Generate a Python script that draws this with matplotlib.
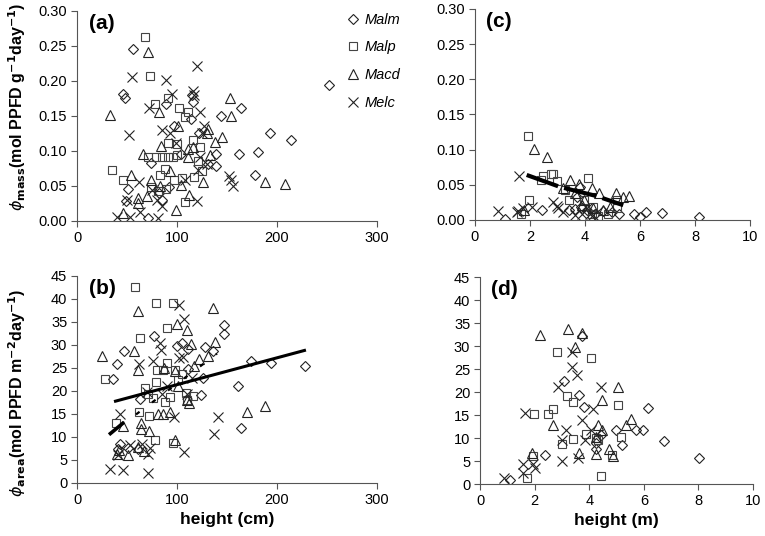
import numpy as np
import matplotlib.pyplot as plt

plt.rcParams['font.family'] = ['Liberation Sans', 'DejaVu Sans']

# ---- (a) phi_mass vs height (cm) ----
a_malm_x = [56, 46, 48, 51, 49, 71, 74, 85, 89, 97, 114, 115, 116, 131, 139, 139, 144, 164, 162, 181, 178, 193, 214, 252, 104, 82, 122, 92]
a_malm_y = [0.246, 0.181, 0.175, 0.046, 0.028, 0.004, 0.083, 0.030, 0.167, 0.136, 0.146, 0.180, 0.170, 0.082, 0.096, 0.078, 0.150, 0.162, 0.096, 0.099, 0.065, 0.125, 0.115, 0.194, 0.095, 0.040, 0.125, 0.048]
a_malp_x = [68, 73, 35, 46, 71, 79, 85, 91, 96, 100, 78, 91, 102, 111, 108, 91, 100, 116, 123, 121, 125, 117, 105, 97, 83, 88, 89, 108, 81, 74]
a_malp_y = [0.263, 0.207, 0.073, 0.059, 0.091, 0.092, 0.092, 0.092, 0.092, 0.094, 0.167, 0.176, 0.161, 0.156, 0.148, 0.112, 0.110, 0.116, 0.105, 0.085, 0.072, 0.063, 0.062, 0.059, 0.066, 0.074, 0.045, 0.027, 0.043, 0.048]
a_macd_x = [33, 54, 61, 61, 46, 71, 66, 74, 70, 82, 84, 83, 93, 99, 104, 101, 112, 111, 111, 116, 126, 131, 138, 145, 133, 153, 154, 188, 208, 130]
a_macd_y = [0.151, 0.066, 0.033, 0.025, 0.011, 0.241, 0.096, 0.059, 0.035, 0.155, 0.107, 0.050, 0.071, 0.016, 0.051, 0.135, 0.037, 0.103, 0.091, 0.106, 0.056, 0.131, 0.113, 0.120, 0.094, 0.176, 0.150, 0.056, 0.053, 0.126]
a_melc_x = [55, 52, 72, 89, 95, 62, 50, 40, 53, 63, 75, 80, 81, 85, 85, 93, 99, 108, 116, 117, 120, 123, 125, 127, 120, 123, 130, 152, 154, 156, 121]
a_melc_y = [0.205, 0.123, 0.162, 0.201, 0.181, 0.055, 0.030, 0.005, 0.005, 0.013, 0.044, 0.030, 0.004, 0.022, 0.130, 0.126, 0.111, 0.059, 0.186, 0.180, 0.221, 0.156, 0.125, 0.136, 0.028, 0.092, 0.081, 0.064, 0.058, 0.050, 0.073]

# ---- (b) phi_area vs height (cm) ----
b_malm_x = [47, 40, 36, 43, 41, 77, 63, 100, 111, 128, 136, 147, 147, 126, 124, 111, 161, 164, 174, 194, 228, 61, 51, 105]
b_malm_y = [28.6, 25.8, 22.5, 8.5, 7.4, 32.0, 18.2, 29.7, 29.1, 29.5, 28.6, 34.4, 32.3, 22.9, 19.2, 24.7, 21.1, 11.9, 26.5, 26.0, 25.4, 7.3, 7.5, 30.4]
b_malp_x = [58, 79, 96, 90, 63, 28, 39, 62, 72, 78, 96, 80, 90, 98, 101, 105, 79, 68, 71, 76, 88, 93, 109, 110, 116, 86]
b_malp_y = [42.5, 39.2, 39.2, 33.7, 31.5, 22.6, 13.1, 15.5, 14.6, 9.3, 8.8, 24.5, 26.0, 24.5, 22.4, 23.6, 22.0, 20.7, 19.4, 18.5, 17.5, 18.7, 19.5, 18.0, 19.0, 24.5]
b_macd_x = [25, 57, 61, 61, 64, 64, 72, 46, 40, 51, 81, 86, 93, 98, 100, 110, 114, 87, 98, 101, 110, 112, 117, 122, 131, 136, 138, 170, 188, 61, 67, 42]
b_macd_y = [27.5, 28.8, 37.4, 24.5, 13.0, 11.7, 11.2, 12.3, 6.4, 6.0, 15.0, 15.0, 15.5, 9.4, 34.5, 33.3, 30.2, 25.0, 24.3, 21.1, 18.0, 17.3, 25.4, 27.0, 27.6, 38.0, 30.6, 15.5, 16.8, 7.9, 7.0, 7.2]
b_melc_x = [33, 46, 71, 43, 62, 76, 83, 84, 102, 107, 102, 106, 141, 137, 97, 107, 71, 73, 65, 53, 41, 110, 85, 70, 90, 115]
b_melc_y = [3.0, 2.8, 2.1, 15.0, 25.8, 26.6, 30.4, 29.0, 38.7, 35.6, 27.2, 27.3, 14.4, 10.7, 14.3, 6.8, 6.4, 7.5, 8.5, 8.2, 6.1, 19.3, 19.3, 19.8, 21.0, 22.9]
# fitted lines in (b)
b_fit_x = [37, 229]
b_fit_y = [17.7, 28.9]
b_fit2_x = [32, 47]
b_fit2_y = [10.5, 13.2]
b_fit3_x = [59, 140]
b_fit3_y = [14.9, 28.1]

# ---- (c) phi_mass vs height (m) ----
c_malm_x = [1.09, 2.44, 3.41, 3.64, 3.84, 4.06, 4.67, 4.97, 5.24, 5.79, 6.00, 6.22, 6.79, 8.13, 3.70, 3.82, 4.36]
c_malm_y = [0.001, 0.014, 0.014, 0.015, 0.019, 0.014, 0.013, 0.012, 0.009, 0.008, 0.004, 0.011, 0.010, 0.004, 0.033, 0.047, 0.009]
c_malp_x = [1.92, 1.98, 1.66, 2.48, 2.76, 2.85, 2.39, 3.00, 3.43, 4.12, 3.96, 4.48, 4.24, 5.15, 3.27, 4.30, 5.15, 4.85]
c_malp_y = [0.120, 0.029, 0.009, 0.063, 0.065, 0.066, 0.057, 0.056, 0.028, 0.059, 0.028, 0.006, 0.009, 0.017, 0.043, 0.019, 0.028, 0.009]
c_macd_x = [2.16, 2.63, 3.45, 3.78, 4.27, 4.52, 5.12, 5.37, 5.60, 3.64, 3.98, 3.21, 1.79, 4.91, 4.30, 4.64, 3.88]
c_macd_y = [0.101, 0.090, 0.057, 0.051, 0.045, 0.039, 0.038, 0.032, 0.034, 0.038, 0.028, 0.045, 0.014, 0.019, 0.017, 0.014, 0.021]
c_melc_x = [0.85, 1.61, 1.54, 1.76, 2.06, 2.85, 2.97, 3.21, 3.03, 3.64, 3.88, 4.18, 4.30, 1.58, 4.06]
c_melc_y = [0.013, 0.062, 0.011, 0.017, 0.018, 0.026, 0.020, 0.012, 0.017, 0.007, 0.009, 0.009, 0.007, 0.013, 0.017]
c_fit_x = [1.88, 3.09, 4.42, 5.39]
c_fit_y = [0.064, 0.047, 0.034, 0.021]

# ---- (d) phi_area vs height (m) ----
d_malm_x = [1.09, 2.39, 3.08, 3.62, 3.82, 3.74, 4.25, 4.44, 4.98, 5.19, 5.70, 5.98, 6.16, 6.74, 8.03, 4.23]
d_malm_y = [0.8, 6.3, 22.4, 19.3, 16.8, 32.2, 7.7, 10.6, 11.7, 8.4, 11.7, 11.7, 16.6, 9.4, 5.6, 9.0]
d_malp_x = [2.83, 4.08, 3.18, 3.41, 2.68, 2.48, 1.96, 5.05, 3.00, 3.41, 3.89, 4.31, 5.16, 4.83, 1.93, 1.71, 4.43, 4.26]
d_malp_y = [28.6, 27.3, 19.2, 17.9, 16.3, 15.2, 15.2, 17.1, 8.6, 9.8, 10.9, 9.5, 10.3, 6.4, 6.1, 1.4, 1.7, 10.0]
d_macd_x = [2.20, 3.22, 3.72, 3.48, 2.66, 1.90, 3.62, 4.26, 4.31, 4.47, 4.47, 5.07, 5.53, 5.34, 4.87, 4.71, 4.23]
d_macd_y = [32.4, 33.8, 32.8, 29.8, 12.8, 6.8, 6.8, 6.5, 12.9, 11.8, 18.3, 21.1, 14.2, 12.8, 6.0, 7.7, 10.3]
d_melc_x = [0.87, 1.59, 1.59, 2.03, 1.93, 1.65, 2.84, 3.38, 3.38, 3.54, 3.00, 3.60, 3.14, 3.02, 3.74, 4.14, 4.44, 3.84, 4.05]
d_melc_y = [1.2, 2.3, 4.4, 3.5, 4.4, 15.5, 21.1, 28.6, 25.5, 23.7, 5.0, 5.7, 11.7, 9.5, 14.0, 16.4, 21.1, 9.5, 11.7]

names = ['Malm', 'Malp', 'Macd', 'Melc']
markers = ['D', 's', '^', 'x']
sizes = [4.8, 5.5, 6.5, 7]
colors = ['#222222', '#444444', '#222222', '#222222']

fig = plt.figure(figsize=(7.65, 5.36), dpi=100)
ax_a = fig.add_axes([0.1007, 0.5877, 0.392, 0.3918])
ax_b = fig.add_axes([0.1007, 0.0989, 0.392, 0.3862])
ax_c = fig.add_axes([0.6209, 0.5896, 0.3595, 0.3937])
ax_d = fig.add_axes([0.6275, 0.0970, 0.3569, 0.3862])

def dessine(ax, series):
    for (xs, ys), name, m, ms, c in zip(series, names, markers, sizes, colors):
        ax.plot(xs, ys, linestyle='none', marker=m, markersize=ms,
                markerfacecolor='none', markeredgecolor=c,
                markeredgewidth=0.8, label=name)
    for s in ['top', 'right']:
        ax.spines[s].set_visible(False)
    for s in ['left', 'bottom']:
        ax.spines[s].set_color('#555555')
    ax.tick_params(direction='out', length=4, width=0.8, color='#555555',
                   labelsize=10.5, pad=3)

dessine(ax_a, [(a_malm_x, a_malm_y), (a_malp_x, a_malp_y), (a_macd_x, a_macd_y), (a_melc_x, a_melc_y)])
dessine(ax_b, [(b_malm_x, b_malm_y), (b_malp_x, b_malp_y), (b_macd_x, b_macd_y), (b_melc_x, b_melc_y)])
dessine(ax_c, [(c_malm_x, c_malm_y), (c_malp_x, c_malp_y), (c_macd_x, c_macd_y), (c_melc_x, c_melc_y)])
dessine(ax_d, [(d_malm_x, d_malm_y), (d_malp_x, d_malp_y), (d_macd_x, d_macd_y), (d_melc_x, d_melc_y)])

# lignes de regression
ax_b.plot(b_fit_x, b_fit_y, color='black', lw=2.2, solid_capstyle='butt')
ax_b.plot(b_fit2_x, b_fit2_y, color='black', lw=2.6, solid_capstyle='butt')
ax_b.plot(b_fit3_x, b_fit3_y, color='black', lw=1.6, linestyle=(0, (2, 7)))
ax_c.plot(c_fit_x, c_fit_y, color='black', lw=3, linestyle=(0, (8, 1.5)))

# axes
for ax in [ax_a, ax_b]:
    ax.set_xlim(0, 300)
    ax.set_xticks([0, 100, 200, 300])
for ax in [ax_c, ax_d]:
    ax.set_xlim(0, 10)
    ax.set_xticks([0, 2, 4, 6, 8, 10])
for ax in [ax_a, ax_c]:
    ax.set_ylim(0, 0.30)
    ax.set_yticks(np.arange(0, 0.31, 0.05))
    ax.set_yticklabels(['%.2f' % v for v in np.arange(0, 0.31, 0.05)])
for ax in [ax_b, ax_d]:
    ax.set_ylim(0, 45)
    ax.set_yticks(range(0, 46, 5))

# etiquettes des panneaux
for ax, lab in zip([ax_a, ax_b, ax_c, ax_d], ['(a)', '(b)', '(c)', '(d)']):
    ax.text(0.04, 0.985, lab, transform=ax.transAxes, fontsize=15,
            fontweight='bold', va='top', ha='left')

ax_a.legend(loc='upper left', bbox_to_anchor=(0.875, 1.02), frameon=False,
            prop={'style': 'italic', 'size': 10.5}, handletextpad=0.3,
            labelspacing=0.95, handlelength=1.0, borderaxespad=0)

ax_b.set_xlabel('height (cm)', fontsize=12.5, fontweight='bold', labelpad=4)
ax_d.set_xlabel('height (m)', fontsize=12.5, fontweight='bold', labelpad=4)

fig.text(0.022, 0.80, r'$\phi_{\mathbf{mass}}$(mol PPFD g$^{\mathbf{-1}}$day$^{\mathbf{-1}}$)',
         rotation=90, ha='center', va='center', fontsize=11.5, fontweight='bold')
fig.text(0.022, 0.268, r'$\phi_{\mathbf{area}}$(mol PPFD m$^{\mathbf{-2}}$day$^{\mathbf{-1}}$)',
         rotation=90, ha='center', va='center', fontsize=11.5, fontweight='bold')

plt.savefig('out.png', dpi=100)
